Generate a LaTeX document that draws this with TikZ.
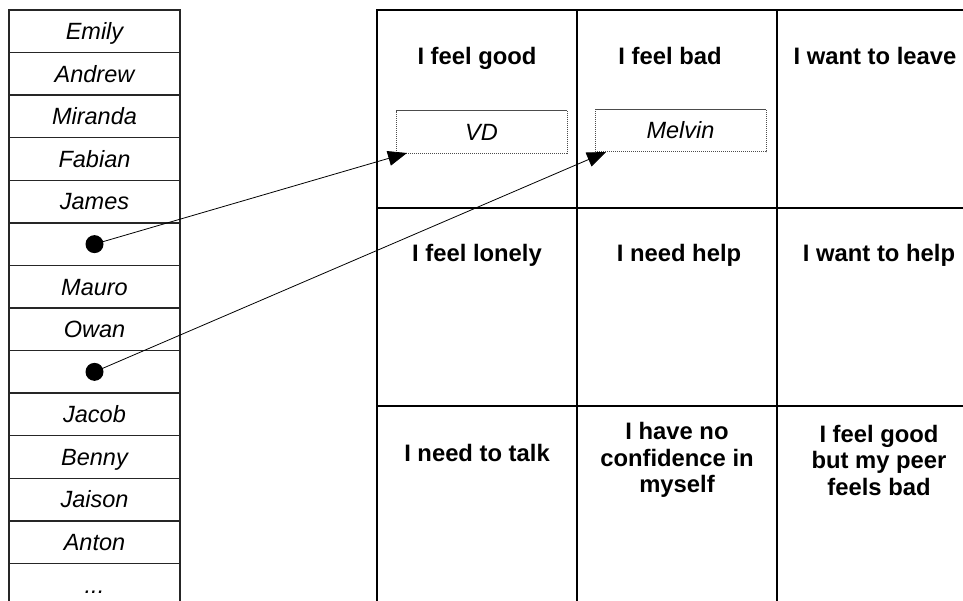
\documentclass[tikz,border=0pt]{standalone}
\usepackage{fontspec}
\setmainfont{Liberation Sans}
\usetikzlibrary{arrows.meta,calc}
\newcommand{\mydots}{...}
\tikzset{
  listcell/.style={draw=black!85, line width=1.3pt, minimum width=171pt, minimum height=42.57pt,
    inner sep=0pt, text height=16.8pt, text depth=0pt, font=\fontsize{23.5}{26.5}\selectfont\itshape},
  gridcell/.style={draw=black, line width=1.5pt, minimum width=200pt, minimum height=198pt, inner sep=0pt},
  lab/.style={font=\fontsize{23.8}{26.5}\selectfont\bfseries, inner sep=0pt, align=center},
  namebox/.style={draw=black!70, line width=1pt, dash pattern=on 1.2pt off 0.8pt, fill=white,
    minimum width=171pt, minimum height=42.5pt, inner sep=0pt, text height=16.8pt, text depth=0pt,
    font=\fontsize{23.5}{26.5}\selectfont\itshape},
  bigdot/.style={circle, fill=black, minimum size=18pt, inner sep=0pt},
  link/.style={line width=0.8pt, -{Triangle[length=19pt,width=15pt]}}
}
\begin{document}
\begin{tikzpicture}[x=1pt,y=-1pt]
\useasboundingbox (0,0) rectangle (963,600);
% left list
\foreach \t [count=\i from 0] in {Emily,Andrew,Miranda,Fabian,James,{},Mauro,Owan,{},Jacob,Benny,Jaison,Anton,\mydots}{
  \node[listcell] (r\i) at (94.5,{10+42.57*(\i+0.5)}) {\t};
}
\node[bigdot] (dotA) at (r5.center) {};
\node[bigdot] (dotB) at (r8.center) {};
% grid
\foreach \c/\x in {1/477,2/677,3/877}{
  \foreach \r/\y in {1/109,2/307,3/505}{
    \node[gridcell] (c\r\c) at (\x,\y) {};
  }
}
\node[lab, anchor=base] (l11) at (477,64) {I feel good};
\node[lab, anchor=base] (l12) at (670,64) {I feel bad};
\node[lab, anchor=base] (l13) at (875,64) {I want to leave};
\node[lab, anchor=base] (l21) at (477,261) {I feel lonely};
\node[lab, anchor=base] (l22) at (679,261) {I need help};
\node[lab, anchor=base] (l23) at (879,261) {I want to help};
\node[lab, anchor=base] (l31) at (477,461) {I need to talk};
\node[lab] (l32) at (677,460) {I have no\\confidence in\\myself};
\node[lab] (l33) at (879,460) {I feel good\\but my peer\\feels bad};
% name boxes
\node[namebox] (vd) at (481.5,132) {VD};
\node[namebox] (melvin) at (680.5,130.5) {Melvin};
\coordinate (tipA) at (407,153);
\coordinate (tipB) at (606,152);
\draw[link] (dotA.center) -- (tipA);
\draw[link] (dotB.center) -- (tipB);
\end{tikzpicture}
\end{document}
